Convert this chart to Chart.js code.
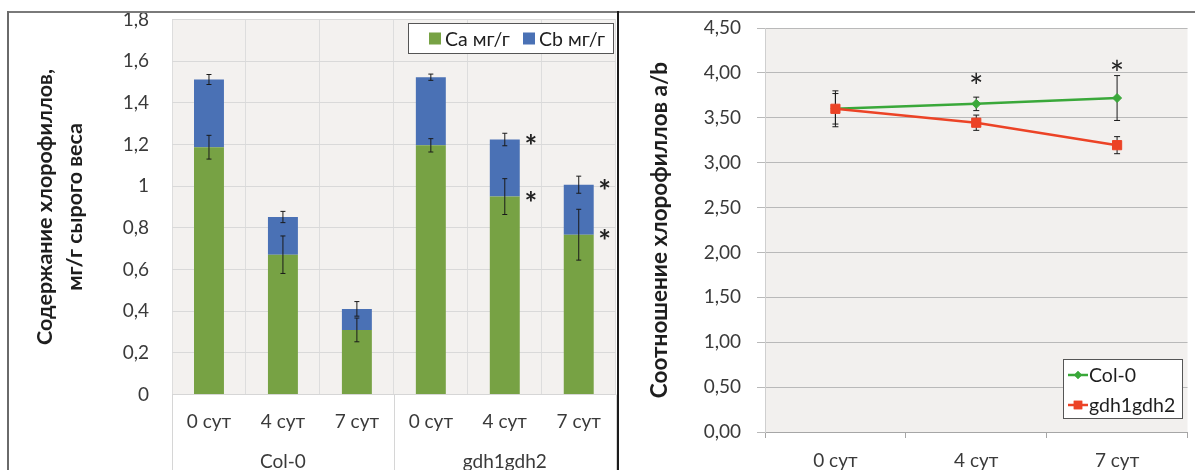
<!DOCTYPE html>
<html>
<head>
<meta charset="utf-8">
<script src="https://cdn.jsdelivr.net/npm/chart.js@4.4.1/dist/chart.umd.min.js"></script>
<style>
  html, body { margin: 0; padding: 0; background: #ffffff; }
  body { width: 1195px; height: 470px; position: relative; overflow: hidden; }
  canvas { position: absolute; top: 0; }
  #cL { left: 0; }
  #cR { left: 619px; }
  .ln { position: absolute; z-index: 5; }
</style>
</head>
<body>
<canvas id="cL" width="617" height="470"></canvas>
<canvas id="cR" width="576" height="470"></canvas>
<div class="ln" style="left:7px; top:11px; width:1188px; height:2px; background:#7a7a7a;"></div>
<div class="ln" style="left:7px; top:11px; width:2px; height:459px; background:#6a6a6a;"></div>
<div class="ln" style="left:617px; top:11px; width:2px; height:459px; background:#1c1c1c;"></div>
<script>
// ---------- data: left chart (stacked bars) ----------
const barCategories = ['0 сут', '4 сут', '7 сут', '0 сут', '4 сут', '7 сут'];
const groupLabels = ['Col-0', 'gdh1gdh2'];
const caValues = [1.187, 0.671, 0.310, 1.196, 0.950, 0.767];
const cbValues = [0.325, 0.181, 0.101, 0.327, 0.274, 0.240];
const caErrors = [0.057, 0.090, 0.057, 0.032, 0.086, 0.122];
const cbErrors = [0.024, 0.027, 0.035, 0.015, 0.030, 0.041];
const caSignificant = [false, false, false, false, true, true];
const cbSignificant = [false, false, false, false, true, true];
const leftYTickLabels = ['0', '0,2', '0,4', '0,6', '0,8', '1', '1,2', '1,4', '1,6', '1,8'];
const leftSeriesNames = ['Ca мг/г', 'Cb мг/г'];

// ---------- data: right chart (lines) ----------
const lineCategories = ['0 сут', '4 сут', '7 сут'];
const col0Ratio = [3.60, 3.655, 3.72];
const col0Errors = [0.20, 0.075, 0.25];
const gdhRatio = [3.60, 3.445, 3.195];
const gdhErrors = [0.17, 0.085, 0.095];
const col0AsteriskAt = [null, 3.93, 4.08];
const rightYTickLabels = ['0,00', '0,50', '1,00', '1,50', '2,00', '2,50', '3,00', '3,50', '4,00', '4,50'];
const rightSeriesNames = ['Col-0', 'gdh1gdh2'];

const FONT = 'Lato, "Open Sans", sans-serif';
const TICK_COLOR = '#3a3a3a';

// ---------- plugins ----------
const plotBackground = {
  id: 'plotBackground',
  beforeDraw(chart, args, opts) {
    const a = chart.chartArea, ctx = chart.ctx;
    ctx.save();
    ctx.fillStyle = opts.color;
    ctx.fillRect(a.left, a.top, a.right - a.left, a.bottom - a.top);
    ctx.restore();
  }
};

function drawErrorBars(chart, opts) {
  const ctx = chart.ctx, ys = chart.scales.y;
  chart.data.datasets.forEach((ds, di) => {
    if (!ds.errors) return;
    const meta = chart.getDatasetMeta(di);
    meta.data.forEach((el, i) => {
      const e = ds.errors[i];
      if (e == null) return;
      const v = ys.getValueForPixel(el.y);
      const yt = ys.getPixelForValue(v + e);
      const yb = ys.getPixelForValue(v - e);
      const c = opts.cap;
      ctx.save();
      ctx.strokeStyle = opts.color;
      ctx.lineWidth = opts.width;
      ctx.beginPath();
      ctx.moveTo(el.x, yt); ctx.lineTo(el.x, yb);
      ctx.moveTo(el.x - c, yt); ctx.lineTo(el.x + c, yt);
      ctx.moveTo(el.x - c, yb); ctx.lineTo(el.x + c, yb);
      ctx.stroke();
      ctx.restore();
    });
  });
}

const errorBarsAfter = {
  id: 'errorBarsAfter',
  afterDatasetsDraw(chart, args, opts) { if (opts.enabled) drawErrorBars(chart, opts); }
};
const errorBarsBefore = {
  id: 'errorBarsBefore',
  beforeDatasetsDraw(chart, args, opts) { if (opts.enabled) drawErrorBars(chart, opts); }
};

const barAsterisks = {
  id: 'barAsterisks',
  afterDatasetsDraw(chart, args, opts) {
    if (!opts.enabled) return;
    const ctx = chart.ctx;
    ctx.save();
    ctx.fillStyle = opts.color;
    ctx.font = opts.font;
    ctx.textAlign = 'center';
    ctx.textBaseline = 'middle';
    chart.data.datasets.forEach((ds, di) => {
      if (!ds.sig) return;
      chart.getDatasetMeta(di).data.forEach((el, i) => {
        if (ds.sig[i]) ctx.fillText('*', el.x + el.width / 2 + opts.dx, el.y + opts.dy);
      });
    });
    ctx.restore();
  }
};

const lineAsterisks = {
  id: 'lineAsterisks',
  afterDatasetsDraw(chart, args, opts) {
    if (!opts.enabled) return;
    const ctx = chart.ctx, xs = chart.scales.x, ys = chart.scales.y;
    ctx.save();
    ctx.fillStyle = opts.color;
    ctx.font = opts.font;
    ctx.textAlign = 'center';
    ctx.textBaseline = 'middle';
    opts.values.forEach((v, i) => {
      if (v == null) return;
      ctx.fillText('*', xs.getPixelForValue(i), ys.getPixelForValue(v) + opts.dy);
    });
    ctx.restore();
  }
};

const boxLegend = {
  id: 'boxLegend',
  afterDraw(chart, args, opts) {
    if (!opts.enabled) return;
    const ctx = chart.ctx;
    ctx.save();
    ctx.fillStyle = '#ffffff';
    ctx.fillRect(opts.x, opts.y, opts.w, opts.h);
    ctx.strokeStyle = '#555555';
    ctx.lineWidth = 1;
    ctx.strokeRect(opts.x + 0.5, opts.y + 0.5, opts.w - 1, opts.h - 1);
    ctx.font = opts.font;
    ctx.textBaseline = 'middle';
    ctx.textAlign = 'left';
    opts.items.forEach(it => {
      const ds = chart.data.datasets[it.dataset];
      if (opts.kind === 'square') {
        ctx.fillStyle = ds.backgroundColor;
        ctx.fillRect(it.sx, it.sy - 6, 12, 12);
      } else {
        ctx.strokeStyle = ds.borderColor;
        ctx.lineWidth = 2.5;
        ctx.beginPath();
        ctx.moveTo(it.sx, it.sy); ctx.lineTo(it.sx + 20, it.sy);
        ctx.stroke();
        ctx.fillStyle = ds.borderColor;
        Chart.helpers.drawPoint(ctx, {pointStyle: ds.pointStyle, radius: it.r, borderWidth: 0, rotation: 0}, it.sx + 10, it.sy);
        ctx.fill();
      }
      ctx.fillStyle = '#1e1e1e';
      ctx.fillText(ds.label, it.tx, it.sy + 1);
    });
    ctx.restore();
  }
};

const sepLines = {
  id: 'sepLines',
  afterDraw(chart, args, opts) {
    if (!opts.enabled) return;
    const ctx = chart.ctx, xs = chart.scales.x, a = chart.chartArea;
    const n = xs.ticks.length, half = (xs.getPixelForValue(1) - xs.getPixelForValue(0)) / 2;
    const xsAt = [xs.getPixelForValue(0) - half, xs.getPixelForValue(n / 2 - 0.5), xs.getPixelForValue(n - 1) + half];
    ctx.save();
    ctx.strokeStyle = opts.color;
    ctx.lineWidth = 1;
    ctx.beginPath();
    xsAt.forEach(x => { ctx.moveTo(Math.round(x) + 0.5, a.bottom); ctx.lineTo(Math.round(x) + 0.5, chart.height); });
    ctx.stroke();
    ctx.restore();
  }
};

Chart.register(plotBackground, errorBarsAfter, errorBarsBefore, barAsterisks, lineAsterisks, boxLegend, sepLines);

// ---------- left chart ----------
new Chart(document.getElementById('cL'), {
  type: 'bar',
  data: {
    labels: barCategories,
    datasets: [
      { label: leftSeriesNames[0], data: caValues, backgroundColor: '#77a244', errors: caErrors, sig: caSignificant,
        barPercentage: 0.405, categoryPercentage: 1 },
      { label: leftSeriesNames[1], data: cbValues, backgroundColor: '#4a71b5', errors: cbErrors, sig: cbSignificant,
        barPercentage: 0.405, categoryPercentage: 1 }
    ]
  },
  options: {
    responsive: false, animation: false, devicePixelRatio: 1,
    layout: { padding: { top: 19.5, right: 1, left: 0, bottom: 0 } },
    plugins: {
      legend: { display: false }, tooltip: { enabled: false },
      plotBackground: { color: '#f3f1ef' },
      errorBarsAfter: { enabled: true, color: '#1a1a1a', width: 1, cap: 2.5 },
      errorBarsBefore: { enabled: false },
      barAsterisks: { enabled: true, color: '#222222', font: 'bold 30px ' + FONT, dx: 11, dy: 8 },
      lineAsterisks: { enabled: false },
      sepLines: { enabled: true, color: '#d6d6d6' },
      boxLegend: {
        enabled: true, kind: 'square', x: 408, y: 23, w: 206, h: 31, font: '19.5px ' + FONT,
        items: [ { dataset: 0, sx: 429, sy: 38.5, tx: 445 }, { dataset: 1, sx: 523, sy: 38.5, tx: 539 } ]
      }
    },
    scales: {
      x: {
        stacked: true, weight: 0,
        grid: { offset: true, color: '#dddddd', drawTicks: false },
        border: { color: '#d6d6d6' },
        ticks: { color: TICK_COLOR, font: { family: FONT, size: 19 }, padding: 16 },
        afterFit: s => { s.height = 50; }
      },
      x2: {
        type: 'category', position: 'bottom', labels: groupLabels, offset: true, weight: 1,
        grid: { display: false, drawTicks: false }, border: { display: false },
        ticks: { color: TICK_COLOR, font: { family: FONT, size: 19 }, padding: 6 },
        afterFit: s => { s.height = 25.5; }
      },
      y: {
        stacked: true, min: 0, max: 1.8,
        ticks: { stepSize: 0.2, callback: (v, i) => leftYTickLabels[i], color: TICK_COLOR,
                 font: { family: FONT, size: 19 }, padding: 0 },
        grid: { color: '#d9d9d9', drawTicks: true, tickLength: 23, tickColor: 'rgba(0,0,0,0)' },
        border: { display: false },
        title: { display: true, text: ['Содержание хлорофиллов,', 'мг/г сырого веса'], color: '#1e1e1e',
                 font: { family: FONT, size: 21.5, weight: 'bold', lineHeight: 30 / 21.5 }, padding: { top: 30, bottom: 0 } },
        afterFit: s => { s.width = 172; }
      }
    }
  }
});

// ---------- right chart ----------
new Chart(document.getElementById('cR'), {
  type: 'line',
  data: {
    labels: lineCategories,
    datasets: [
      { label: rightSeriesNames[0], data: col0Ratio, errors: col0Errors, borderColor: '#3aa83a', backgroundColor: '#3aa83a',
        borderWidth: 2.5, pointStyle: 'rectRot', pointRadius: 4.5, pointBorderWidth: 1, order: 1 },
      { label: rightSeriesNames[1], data: gdhRatio, errors: gdhErrors, borderColor: '#ec4326', backgroundColor: '#ec4326',
        borderWidth: 2.5, pointStyle: 'rect', pointRadius: 6.5, pointBorderWidth: 1, order: 0 }
    ]
  },
  options: {
    responsive: false, animation: false, devicePixelRatio: 1,
    layout: { padding: { top: 28, right: 5, left: 0, bottom: 0 } },
    plugins: {
      legend: { display: false }, tooltip: { enabled: false },
      plotBackground: { color: '#f2f0ee' },
      errorBarsAfter: { enabled: false },
      errorBarsBefore: { enabled: true, color: '#1a1a1a', width: 1, cap: 3 },
      barAsterisks: { enabled: false },
      lineAsterisks: { enabled: true, values: col0AsteriskAt, color: '#222222', font: '34px ' + FONT, dy: 9 },
      sepLines: { enabled: false },
      boxLegend: {
        enabled: true, kind: 'line', x: 444, y: 359, w: 120, h: 60, font: '19.5px ' + FONT,
        items: [ { dataset: 0, sx: 449, sy: 375, tx: 470, r: 4 }, { dataset: 1, sx: 449, sy: 405, tx: 470, r: 6 } ]
      }
    },
    scales: {
      x: {
        offset: true,
        grid: { offset: true, drawOnChartArea: false, color: '#a6a6a6', tickLength: 6 },
        border: { color: '#a6a6a6' },
        ticks: { color: TICK_COLOR, font: { family: FONT, size: 19 }, padding: 11 },
        afterFit: s => { s.height = 38; }
      },
      y: {
        min: 0, max: 4.5,
        ticks: { stepSize: 0.5, callback: (v, i) => rightYTickLabels[i], color: TICK_COLOR,
                 font: { family: FONT, size: 19 }, padding: 16 },
        grid: { color: '#b9b9b9', tickLength: 8 },
        border: { color: '#cfcfcf' },
        title: { display: true, text: 'Соотношение хлорофиллов a/b', color: '#1e1e1e',
                 font: { family: FONT, size: 22.5, weight: 'bold', lineHeight: 1.2 }, padding: { top: 27, bottom: 0 } },
        afterFit: s => { s.width = 146; }
      }
    }
  }
});
</script>
</body>
</html>
